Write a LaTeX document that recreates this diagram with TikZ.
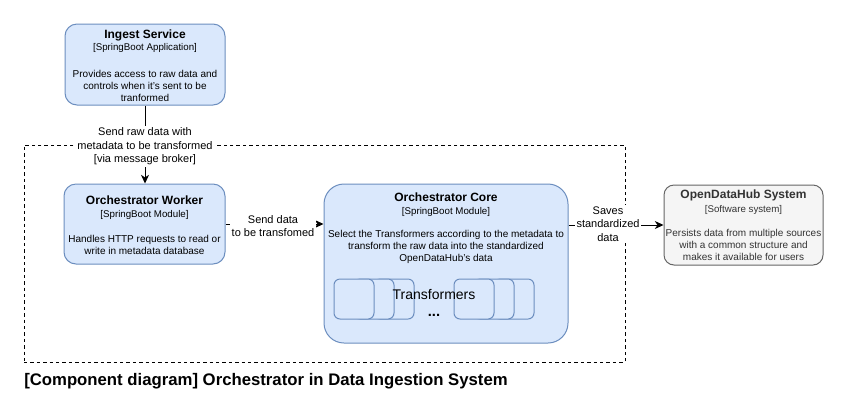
\documentclass[tikz,border=0pt]{standalone}
\usepackage{fontspec}
\setmainfont{Liberation Sans}
\usetikzlibrary{arrows.meta}
\definecolor{bluefill}{HTML}{DAE8FC}
\definecolor{blueline}{HTML}{6C8EBF}
\definecolor{grayfill}{HTML}{F5F5F5}
\definecolor{grayline}{HTML}{666666}
\definecolor{graytext}{HTML}{333333}
\tikzset{
  bluebox/.style={draw=blueline, fill=bluefill, line width=0.75pt, inner sep=0pt},
  graybox/.style={draw=grayline, fill=grayfill, line width=0.75pt, inner sep=0pt},
  tbox/.style={draw=blueline, fill=bluefill, line width=0.75pt, inner sep=0pt, rounded corners=4.5pt, minimum width=30pt, minimum height=30pt},
  boundary/.style={draw=black, line width=0.75pt, dash pattern=on 2.6pt off 2.2pt, inner sep=0pt},
  titletxt/.style={font=\fontsize{9}{11}\selectfont\bfseries, inner sep=0pt, align=center},
  subtxt/.style={font=\fontsize{7.3}{8.6}\selectfont, inner sep=0pt, align=center},
  desctxt/.style={font=\fontsize{7.5}{9}\selectfont, inner sep=0pt, align=center},
  lbl/.style={font=\fontsize{8.25}{10.2}\selectfont, fill=white, inner sep=1pt, align=center},
  conn/.style={draw=black, line width=0.75pt, -{Stealth[length=6.5pt,width=6pt,inset=2pt]}},
  captiontxt/.style={font=\fontsize{12.55}{14}\selectfont\bfseries, inner sep=0pt},
}
\begin{document}
\begin{tikzpicture}[x=0.75pt,y=-0.75pt]
\useasboundingbox (0,0) rectangle (849,419);
\fill[white] (0,0) rectangle (849,419);

% system boundary
\node[boundary, minimum width=450.75pt, minimum height=162.75pt] (bnd) at (324.5,253.5) {};

% Ingest Service
\node[bluebox, rounded corners=9pt, minimum width=120pt, minimum height=60.75pt] (ingest) at (145,64.5) {};
\node[titletxt] (ingestT) at (145,35) {Ingest Service};
\node[subtxt] (ingestS) at (145,48) {[SpringBoot Application]};
\node[desctxt] (ingestD) at (145,86) {Provides access to raw data and\\controls when it's sent to be\\tranformed};

% Orchestrator Worker
\node[bluebox, rounded corners=9pt, minimum width=120.75pt, minimum height=60pt] (worker) at (144.5,224) {};
\node[titletxt] (workerT) at (144.5,200) {Orchestrator Worker};
\node[subtxt] (workerS) at (144.5,215) {[SpringBoot Module]};
\node[desctxt] (workerD) at (144.5,244.5) {Handles HTTP requests to read or\\write in metadata database};

% Orchestrator Core
\node[bluebox, rounded corners=15pt, minimum width=183pt, minimum height=119.25pt] (core) at (446,263.5) {};
\node[titletxt] (coreT) at (446,197) {Orchestrator Core};
\node[subtxt] (coreS) at (446,212) {[SpringBoot Module]};
\node[desctxt] (coreD) at (446,247) {Select the Transformers according to the metadata to\\transform the raw data into the standardized\\OpenDataHub's data};

% Transformers stacks
\node[tbox] (t3) at (394,299) {};
\node[tbox] (t2) at (374,299) {};
\node[tbox] (t1) at (354,299) {};
\node[tbox] (t6) at (514,299) {};
\node[tbox] (t5) at (494,299) {};
\node[tbox] (t4) at (474,299) {};
\node[font=\fontsize{10.5}{12}\selectfont, inner sep=0pt] (tlabel) at (434,294) {Transformers};
\node[font=\fontsize{11}{12}\selectfont\bfseries, inner sep=0pt, anchor=base] (tdots) at (434,316) {...};

% OpenDataHub System
\node[graybox, rounded corners=7.5pt, minimum width=119.25pt, minimum height=60pt] (odh) at (743.5,225) {};
\node[titletxt, text=graytext] (odhT) at (743.5,195) {OpenDataHub System};
\node[subtxt, text=graytext] (odhS) at (743.5,210) {[Software system]};
\node[desctxt, text=graytext] (odhD) at (743.5,245) {Persists data from multiple sources\\with a common structure and\\makes it available for users};

% connectors
\draw[conn] (ingest.south) -- (ingest.south |- worker.north);
\node[lbl] (l1) at (145,146.5) {Send raw data with\\metadata to be transformed\\{[via message broker]}};

\draw[conn] (worker.east) -- (worker.east -| core.west);
\node[lbl] (l2) at (273,226) {Send data\\to be transfomed};

\draw[conn] (core.east |- odh.west) -- (odh.west);
\node[lbl] (l3) at (608,224) {Saves\\standardized\\data};

% caption
\node[captiontxt, anchor=west] (cap) at (24,381) {[Component diagram] Orchestrator in Data Ingestion System};
\end{tikzpicture}
\end{document}
